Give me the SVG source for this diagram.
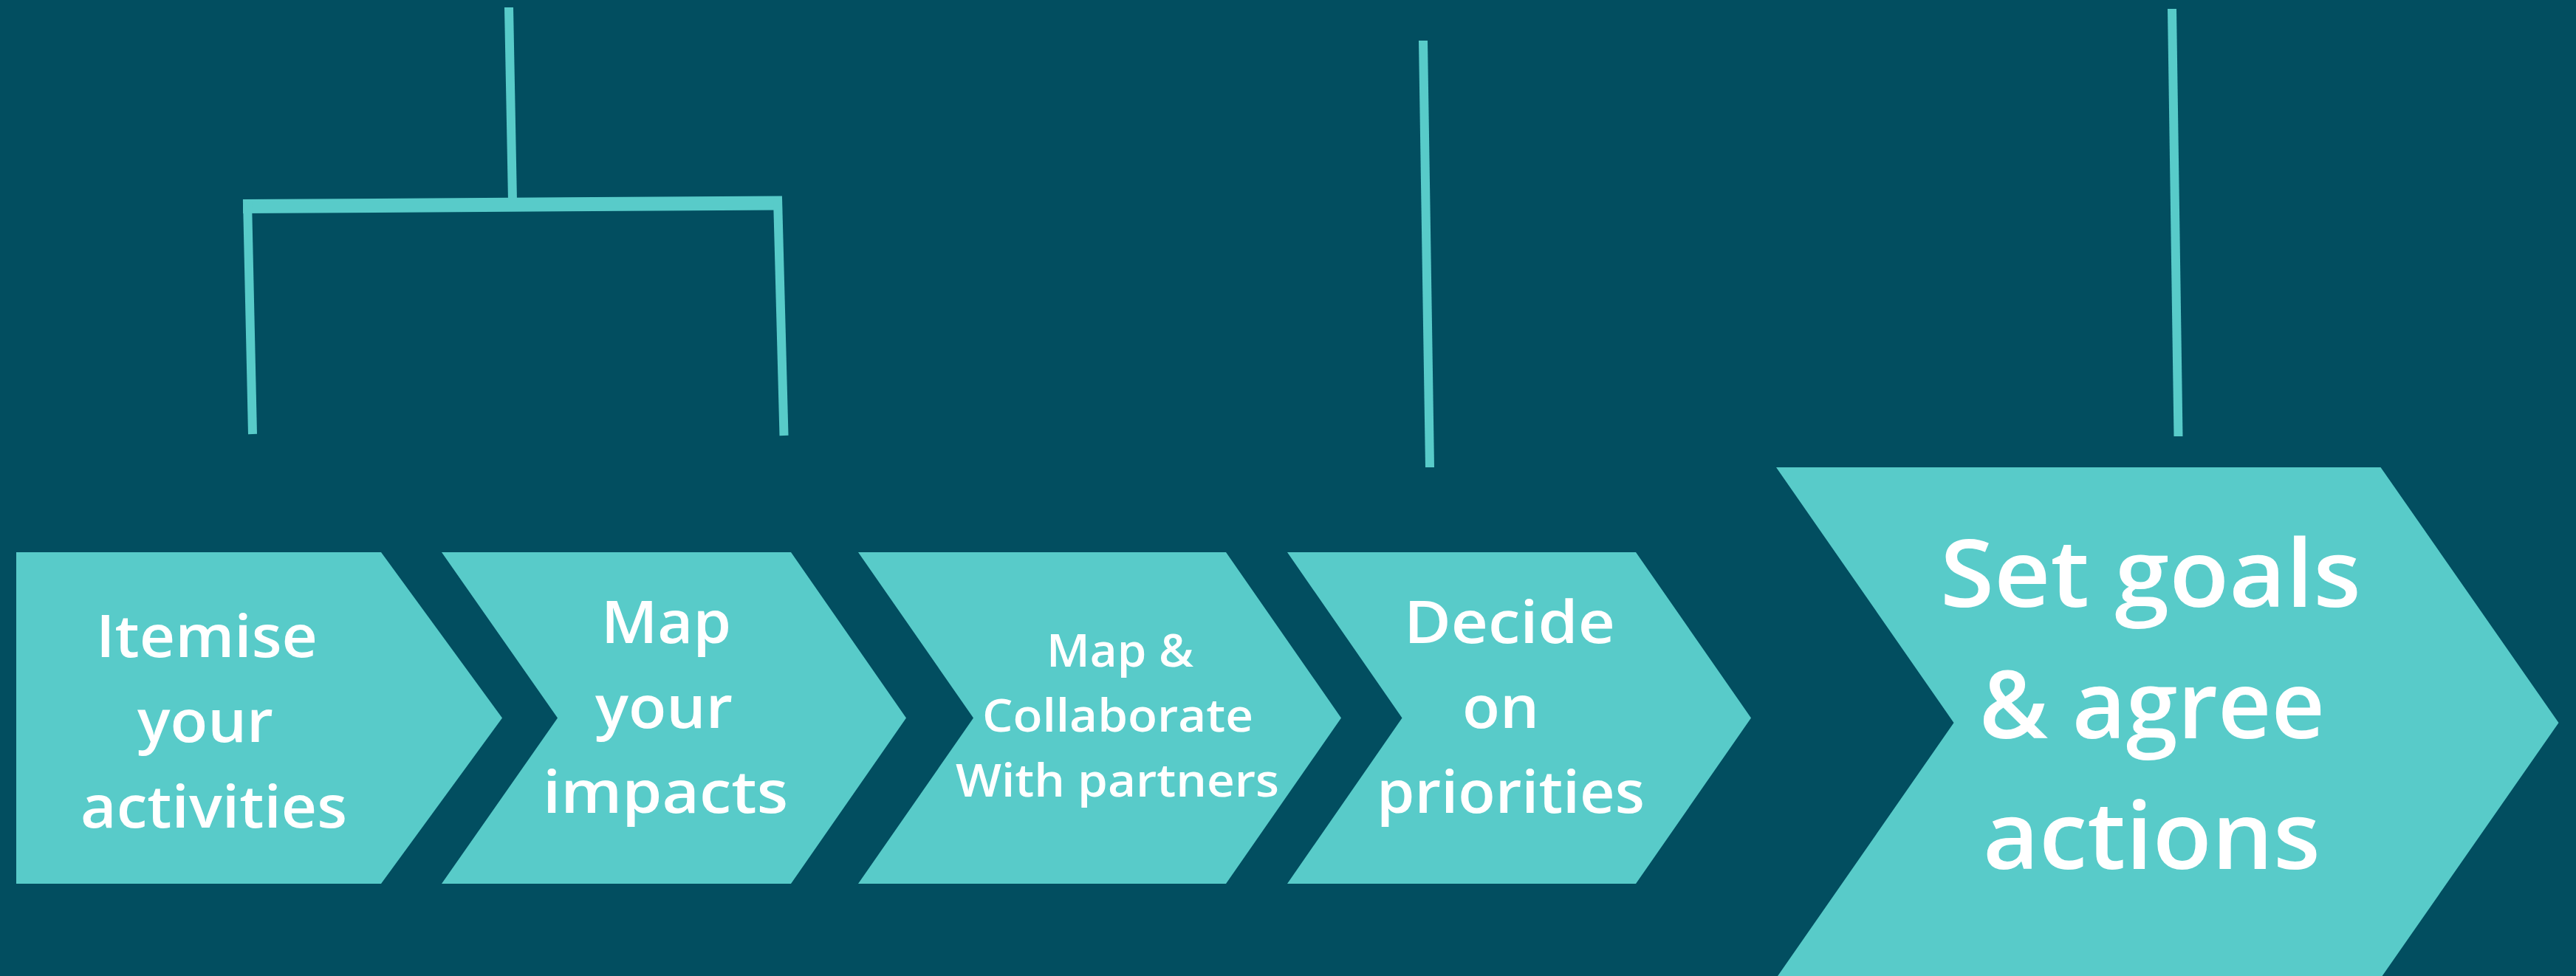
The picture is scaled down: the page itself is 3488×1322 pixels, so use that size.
<svg xmlns="http://www.w3.org/2000/svg" width="3488" height="1322" viewBox="0 0 3488 1322">
  <style>
    .bg { fill: #024E60; }
    .step { fill: #58CBC9; }
    .link { stroke: #58CBC9; stroke-linecap: butt; fill: none; }
    .label { fill: #FFFFFF; font-family: "Open Sans", "Noto Sans", "DejaVu Sans", sans-serif; font-weight: 600; text-anchor: middle; }
    .l80 { font-size: 80px; }
    .l62 { font-size: 62px; }
    .l126 { font-size: 126px; }
  </style>

  <rect class="bg" x="0" y="0" width="3488" height="1322"/>

  <!-- connectors: bracket over the first two steps, single drops over steps 4 and 5 -->
  <g id="connectors">
    <line class="link" x1="689" y1="10" x2="694" y2="272" stroke-width="12"/>
    <line class="link" x1="329" y1="279.5" x2="1059" y2="275" stroke-width="19"/>
    <line class="link" x1="335" y1="272" x2="342" y2="588" stroke-width="12"/>
    <line class="link" x1="1053" y1="268" x2="1061.5" y2="590" stroke-width="12"/>
    <line class="link" x1="1927" y1="55" x2="1936" y2="633" stroke-width="12"/>
    <line class="link" x1="2941" y1="12" x2="2949.5" y2="591" stroke-width="12"/>
  </g>

  <g id="step-itemise">
    <polygon class="step" points="22,748 516,748 680,972.5 516,1197 22,1197"/>
    <text class="label l80" x="280" y="890" textLength="300" lengthAdjust="spacingAndGlyphs">Itemise</text>
    <text class="label l80" x="278" y="1005" textLength="184" lengthAdjust="spacingAndGlyphs">your</text>
    <text class="label l80" x="289.5" y="1120.5" textLength="361" lengthAdjust="spacingAndGlyphs">activities</text>
  </g>

  <g id="step-map-impacts">
    <polygon class="step" points="598,748 1071,748 1227,972.5 1071,1197 598,1197 755,972.5"/>
    <text class="label l80" x="902" y="870.6" textLength="176" lengthAdjust="spacingAndGlyphs">Map</text>
    <text class="label l80" x="899" y="985.6" textLength="186" lengthAdjust="spacingAndGlyphs">your</text>
    <text class="label l80" x="901" y="1101.4" textLength="332" lengthAdjust="spacingAndGlyphs">impacts</text>
  </g>

  <g id="step-collaborate">
    <polygon class="step" points="1162,748 1660,748 1816,972.5 1660,1197 1162,1197 1318,972.5"/>
    <text class="label l62" x="1516.5" y="903" textLength="199" lengthAdjust="spacingAndGlyphs">Map &amp;</text>
    <text class="label l62" x="1513.5" y="991" textLength="367" lengthAdjust="spacingAndGlyphs">Collaborate</text>
    <text class="label l62" x="1513" y="1079" textLength="438" lengthAdjust="spacingAndGlyphs">With partners</text>
  </g>

  <g id="step-priorities">
    <polygon class="step" points="1743,748 2215,748 2371,972.5 2215,1197 1743,1197 1898.5,972.5"/>
    <text class="label l80" x="2044" y="871" textLength="286" lengthAdjust="spacingAndGlyphs">Decide</text>
    <text class="label l80" x="2032" y="986" textLength="104" lengthAdjust="spacingAndGlyphs">on</text>
    <text class="label l80" x="2045.5" y="1101" textLength="363" lengthAdjust="spacingAndGlyphs">priorities</text>
  </g>

  <g id="step-goals">
    <polygon class="step" points="2405,633 3223.5,633 3464.5,979 3223.5,1325 2405,1325 2645.5,979"/>
    <text class="label l126" x="2912" y="822" textLength="570" lengthAdjust="spacingAndGlyphs">Set goals</text>
    <text class="label l126" x="2914" y="1000" textLength="468" lengthAdjust="spacingAndGlyphs">&amp; agree</text>
    <text class="label l126" x="2913.5" y="1176.5" textLength="457" lengthAdjust="spacingAndGlyphs">actions</text>
  </g>
</svg>
